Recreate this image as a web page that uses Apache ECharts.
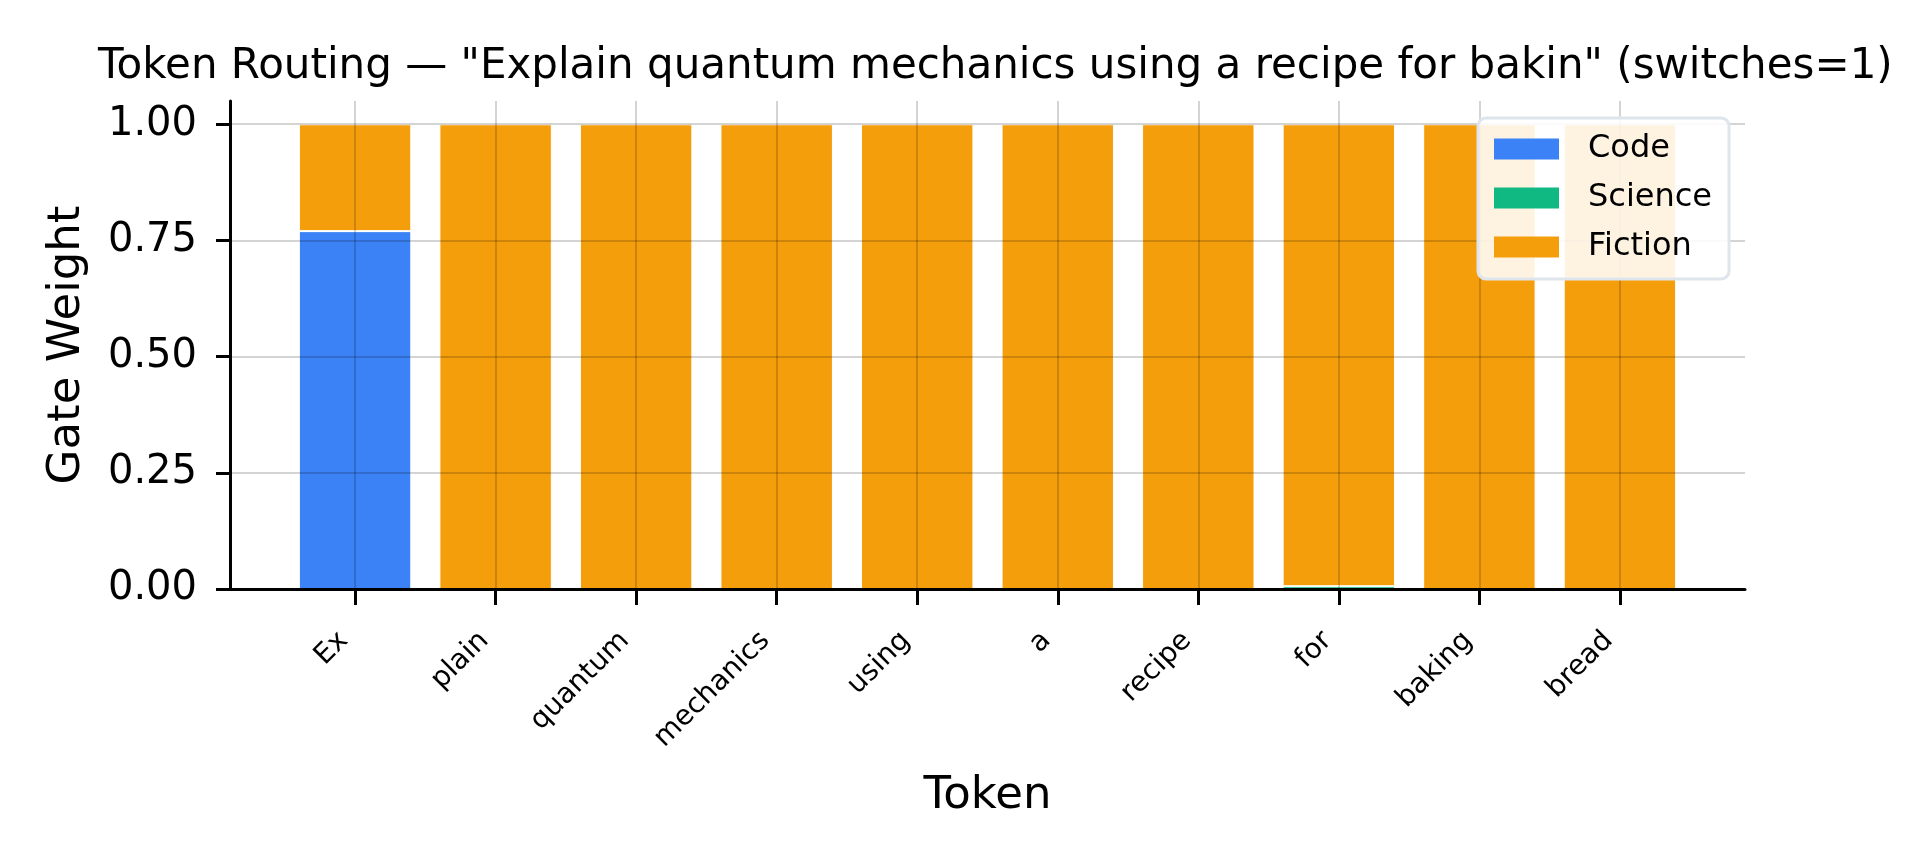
<!DOCTYPE html>
<html><head><meta charset="utf-8">
<script src="https://cdn.jsdelivr.net/npm/echarts@6/dist/echarts.min.js"></script>
<style>html,body{margin:0;padding:0;background:#fff}#c{width:1920px;height:862px}</style>
</head><body><div id="c"></div>
<script>
const tokens = ['Ex','plain','quantum','mechanics','using','a','recipe','for','baking','bread'];
const codeWeights = [0.77,0,0,0,0,0,0,0,0,0];
const scienceWeights = [0,0,0,0,0,0,0,0.006,0,0];
const fictionWeights = [0.23,1,1,1,1,1,1,0.994,1,1];
const yTickValues = [0,0.25,0.5,0.75,1.0];
const yGridValues = [0.25,0.5,0.75,1.0];
const seriesNames = ['Code','Science','Fiction'];
const colors = ['#3b82f6','#10b981','#f59e0b'];
const titleText = 'Token Routing \u2014 "Explain quantum mechanics using a recipe for bakin" (switches=1)';

const xMin = -0.89, xMax = tokens.length - 1 + 0.89;
const gridLeft = 230, gridRight = 175, gridTop = 101, gridBottom = 273;
const plotW = 1920 - gridLeft - gridRight;
const barW = 0.8 * plotW / (xMax - xMin);
const xTickValues = tokens.map((t, i) => i);
const FONT = 'DejaVu Sans';
const gridLine = {color: 'rgba(0,0,0,0.17)', width: 2, type: 'solid'};

const weights = [codeWeights, scienceWeights, fictionWeights];
const series = seriesNames.map((name, k) => {
  const s = {
    name: name,
    type: 'bar',
    stack: 'total',
    barWidth: barW,
    // column 0 = weight (stacked value), column 1 = token index
    data: weights[k].map((v, i) => [v, i]),
    encode: {x: 1, y: 0},
    itemStyle: {color: colors[k], borderColor: '#ffffff', borderWidth: 1},
    emphasis: {disabled: true},
    z: 2
  };
  if (k === seriesNames.length - 1) {
    s.markLine = {
      silent: true,
      symbol: ['none', 'none'],
      label: {show: false},
      lineStyle: gridLine,
      emphasis: {disabled: true},
      data: xTickValues.map(v => ({xAxis: v})).concat(yGridValues.map(v => ({yAxis: v})))
    };
  }
  return s;
});

const chart = echarts.init(document.getElementById('c'), null, {renderer: 'canvas'});
chart.setOption({
  animation: false,
  backgroundColor: '#ffffff',
  textStyle: {fontFamily: FONT, color: '#000'},
  title: {
    text: titleText,
    left: 98, top: 46, padding: 0,
    textStyle: {fontFamily: FONT, fontSize: 42, fontWeight: 'normal', color: '#000'}
  },
  legend: {
    data: seriesNames,
    orient: 'vertical',
    left: 1478, top: 118,
    icon: 'rect',
    itemWidth: 65, itemHeight: 21, itemGap: 17,
    padding: [15, 17, 16, 16],
    backgroundColor: 'rgba(255,255,255,0.88)',
    borderColor: '#dfe5ec', borderWidth: 3, borderRadius: 8,
    z: 10,
    textStyle: {fontFamily: FONT, fontSize: 32, color: '#000', lineHeight: 30, padding: [0, 0, 0, 24]},
    itemStyle: {borderWidth: 0}
  },
  grid: {left: gridLeft, right: gridRight, top: gridTop, bottom: gridBottom, containLabel: false},
  xAxis: {
    type: 'value', min: xMin, max: xMax, z: 3,
    axisLine: {show: true, onZero: false, lineStyle: {color: '#000', width: 3}},
    axisTick: {show: true, customValues: xTickValues, length: 16, lineStyle: {color: '#000', width: 3}},
    axisLabel: {
      customValues: xTickValues,
      formatter: v => tokens[Math.round(v)],
      rotate: 45, margin: 36, fontSize: 28, color: '#000', fontFamily: FONT,
      padding: [0, 16, 0, 0]
    },
    splitLine: {show: false},
    name: 'Token', nameLocation: 'middle', nameGap: 185,
    nameTextStyle: {fontFamily: FONT, fontSize: 45, color: '#000'}
  },
  yAxis: {
    type: 'value', min: 0, max: 1.05, z: 3,
    axisLine: {show: true, onZero: false, lineStyle: {color: '#000', width: 3}},
    axisTick: {show: true, customValues: yTickValues, length: 14, lineStyle: {color: '#000', width: 3}},
    axisLabel: {customValues: yTickValues, formatter: v => v.toFixed(2), margin: 33, fontSize: 40, color: '#000', fontFamily: FONT},
    splitLine: {show: false},
    name: 'Gate Weight', nameLocation: 'middle', nameGap: 140,
    nameTextStyle: {fontFamily: FONT, fontSize: 45, color: '#000'}
  },
  series: series
});
</script></body></html>
